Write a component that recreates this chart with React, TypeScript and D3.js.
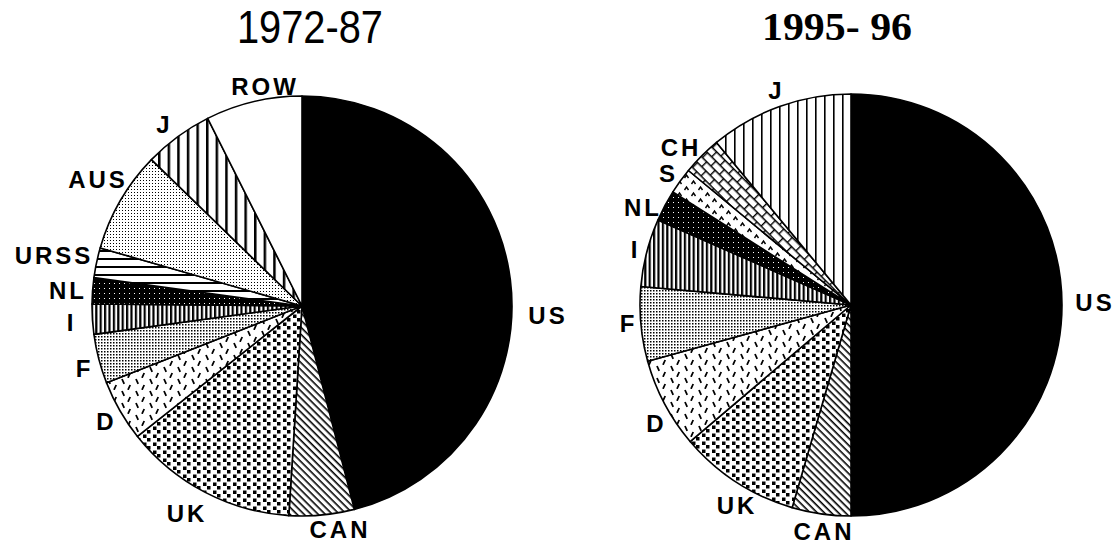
import React from "react";
import * as d3 from "d3";

// shares (%), clockwise from 12 o'clock
const labels1 = ["US", "CAN", "UK", "D", "F", "I", "NL", "URSS", "AUS", "J", "ROW"];
const shares1 = [45.9, 5.0, 13.3, 4.7, 3.8, 2.3, 2.0, 2.3, 7.8, 5.3, 7.4];

const labels2 = ["US", "CAN", "UK", "D", "F", "I", "NL", "S", "CH", "J"];
const shares2 = [50.0, 4.5, 9.3, 6.9, 5.7, 5.2, 2.4, 2.0, 3.0, 11.0];

const titles = ["1972-87", "1995- 96"];

const W = 1117;
const H = 546;

// fills per slice (patterns defined below)
const fills1: Record<string, string> = {
    US: "#000", CAN: "url(#diag)", UK: "url(#zig)", D: "url(#dash)", F: "url(#stipF)",
    I: "url(#vI)", NL: "url(#dark)", URSS: "url(#hl)", AUS: "url(#stipA)", J: "url(#vJ1)", ROW: "#fff"
};
const fills2: Record<string, string> = {
    US: "#000", CAN: "url(#diag)", UK: "url(#zig)", D: "url(#dash)", F: "url(#stipF)",
    I: "url(#vI)", NL: "url(#dark)", S: "url(#chev)", CH: "url(#brick)", J: "url(#vJ2)"
};

// label offsets from pie centre (hand placed like the original)
const lab1: Record<string, [number, number]> = {
    ROW: [-37, -220], J: [-139, -182], AUS: [-204, -127], URSS: [-248, -51], NL: [-234, -16],
    I: [-232, 16], F: [-219, 62], D: [-197, 115], UK: [-115, 207], CAN: [38, 223], US: [246, 9]
};
const lab2: Record<string, [number, number]> = {
    J: [-76, -215], CH: [-170, -158], S: [-184, -132], NL: [-208, -98], I: [-217, -56],
    F: [-224, 18], D: [-196, 118], UK: [-114, 200], CAN: [-27, 226], US: [244, -3]
};

const Pie = ({ labels, shares, fills, lab, cx, cy, r }: any) => {
    const pie = d3.pie<number>().sort(null).value(d => d).startAngle(0).endAngle(2 * Math.PI);
    const arc = d3.arc<d3.PieArcDatum<number>>().innerRadius(0).outerRadius(r);
    const arcs = pie(shares);
    return (
        <g transform={`translate(${cx},${cy})`}>
            {arcs.map((a, i) => (
                <path key={labels[i]} d={arc(a) || ""} fill={fills[labels[i]]} stroke="#000" strokeWidth={1.6} strokeLinejoin="round" />
            ))}
            {labels.map((l: string) => (
                <text
                    key={l + "t"}
                    x={lab[l][0]}
                    y={lab[l][1]}
                    textAnchor="middle"
                    dominantBaseline="central"
                    fontFamily="Liberation Sans, Arial, sans-serif"
                    fontWeight="bold"
                    fontSize={24}
                    letterSpacing={l.length > 1 ? 3 : 0}
                >
                    {l}
                </text>
            ))}
        </g>
    );
};

export default function App() {
    return (
        <svg width={W} height={H} style={{ position: "absolute", left: 0, top: 0, background: "#fff" }}>
            <defs>
                <pattern id="diag" width={5} height={5} patternUnits="userSpaceOnUse" patternTransform="rotate(45)">
                    <rect width={5} height={5} fill="#fff" />
                    <rect width={5} height={1.6} fill="#000" />
                </pattern>
                <pattern id="zig" width={10} height={8} patternUnits="userSpaceOnUse">
                    <rect width={10} height={8} fill="#fff" />
                    <rect x={1} y={0.5} width={3.5} height={3.5} fill="#000" />
                    <rect x={5} y={4} width={3.5} height={3.5} fill="#000" />
                </pattern>
                <pattern id="dash" width={14} height={12} patternUnits="userSpaceOnUse">
                    <rect width={14} height={12} fill="#fff" />
                    <path d="M2,1 L4.2,5.8 M10.2,7 L8,11.8" stroke="#000" strokeWidth={1.8} />
                </pattern>
                <pattern id="stipF" width={3} height={3} patternUnits="userSpaceOnUse">
                    <rect width={3} height={3} fill="#fff" />
                    <rect width={1.5} height={1.5} fill="#000" />
                </pattern>
                <pattern id="stipA" width={3} height={3} patternUnits="userSpaceOnUse">
                    <rect width={3} height={3} fill="#fff" />
                    <rect width={1} height={1} fill="#000" />
                </pattern>
                <pattern id="vI" width={4.4} height={10} patternUnits="userSpaceOnUse">
                    <rect width={4.4} height={10} fill="#fff" />
                    <rect width={2.2} height={10} fill="#000" />
                </pattern>
                <pattern id="vJ1" width={9.6} height={10} patternUnits="userSpaceOnUse">
                    <rect width={9.6} height={10} fill="#fff" />
                    <rect width={2.5} height={10} fill="#000" />
                </pattern>
                <pattern id="vJ2" width={9} height={10} patternUnits="userSpaceOnUse">
                    <rect width={9} height={10} fill="#fff" />
                    <rect width={1.6} height={10} fill="#000" />
                </pattern>
                <pattern id="hl" width={10} height={8} patternUnits="userSpaceOnUse">
                    <rect width={10} height={8} fill="#fff" />
                    <rect width={10} height={2} fill="#000" />
                </pattern>
                <pattern id="dark" width={5} height={5} patternUnits="userSpaceOnUse">
                    <rect width={5} height={5} fill="#000" />
                    <rect x={2} y={2} width={1} height={1} fill="#fff" />
                </pattern>
                <pattern id="chev" width={14} height={12} patternUnits="userSpaceOnUse">
                    <rect width={14} height={12} fill="#fff" />
                    <path d="M1.5,5 L3.5,2 L5.5,5 M8.5,11 L10.5,8 L12.5,11" stroke="#000" strokeWidth={1.4} fill="none" />
                </pattern>
                <pattern id="brick" width={12} height={14} patternUnits="userSpaceOnUse" patternTransform="rotate(45)">
                    <rect width={12} height={14} fill="#fff" />
                    <path d="M0,0.7 H12 M0,7.7 H12 M0.7,0 V7 M6.7,7 V14" stroke="#000" strokeWidth={1.4} />
                </pattern>
            </defs>

            <text x={310} y={43} textAnchor="middle" fontFamily="Liberation Sans, Arial, sans-serif" fontSize={46} textLength={146} lengthAdjust="spacingAndGlyphs">
                {titles[0]}
            </text>
            <text x={837} y={40} textAnchor="middle" fontFamily="Liberation Serif, Times New Roman, serif" fontWeight="bold" fontSize={40} textLength={150} lengthAdjust="spacingAndGlyphs">
                {titles[1]}
            </text>

            <Pie labels={labels1} shares={shares1} fills={fills1} lab={lab1} cx={302} cy={306} r={210} />
            <Pie labels={labels2} shares={shares2} fills={fills2} lab={lab2} cx={851} cy={305} r={211} />
        </svg>
    );
}
